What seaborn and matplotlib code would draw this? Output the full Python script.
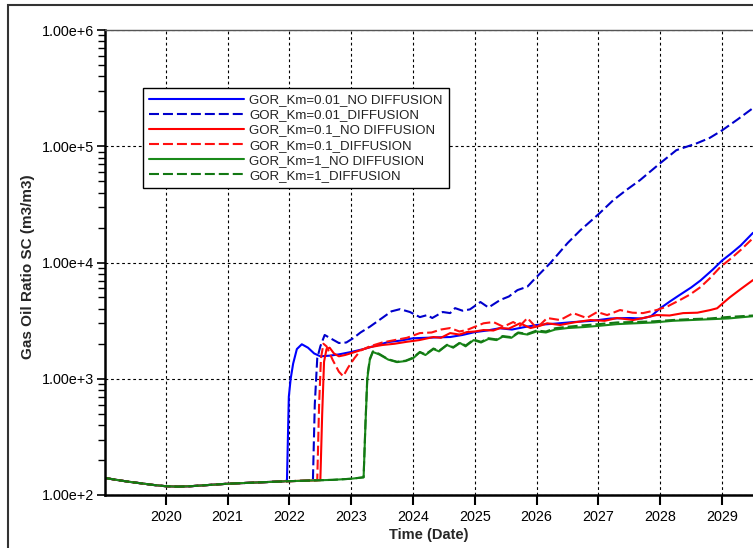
import numpy as np
import pandas as pd
import matplotlib
matplotlib.use("Agg")
import matplotlib.pyplot as plt
from matplotlib.patches import Rectangle
from matplotlib.ticker import FixedLocator, FuncFormatter, LogLocator, NullFormatter
import seaborn as sns

# ---- data: gas-oil ratio (m3/m3) against time (decimal years) ----
base_years = [2019.02, 2019.2, 2019.4, 2019.6, 2019.8, 2020.0, 2020.2, 2020.4,
              2020.6, 2020.8, 2021.0, 2021.3, 2021.6, 2021.9]
base_gor = [140, 135, 130, 126, 122, 119, 118, 119, 121, 123, 125, 127, 129, 131]

km001_nodiff_years = base_years + [
    2021.96, 2021.99, 2022.02, 2022.06, 2022.12, 2022.2, 2022.3, 2022.4, 2022.5, 2022.65,
    2022.8, 2023.0, 2023.2, 2023.4, 2023.6, 2023.8, 2024.0, 2024.2, 2024.4, 2024.6,
    2024.8, 2025.0, 2025.2, 2025.4, 2025.6, 2025.8, 2026.0, 2026.3, 2026.6, 2026.9,
    2027.2, 2027.5, 2027.7, 2027.85, 2028.0, 2028.15, 2028.3, 2028.5, 2028.65, 2028.85,
    2029.0, 2029.15, 2029.3, 2029.5]
km001_nodiff_gor = base_gor + [
    133, 700, 1000, 1350, 1800, 1980, 1850, 1650, 1560, 1580,
    1620, 1700, 1800, 1930, 2070, 2130, 2230, 2250, 2270, 2285,
    2380, 2520, 2600, 2720, 2650, 2780, 2900, 2980, 3075, 3150,
    3300, 3330, 3300, 3450, 4040, 4600, 5200, 6100, 7000, 8700,
    10400, 12000, 14000, 18000]

km001_diff_years = base_years + [
    2022.1, 2022.3, 2022.38, 2022.41, 2022.45, 2022.5, 2022.57, 2022.65, 2022.8, 2022.92,
    2023.03, 2023.15, 2023.3, 2023.52, 2023.65, 2023.79, 2023.95, 2024.11, 2024.23, 2024.31,
    2024.48, 2024.6, 2024.68, 2024.8, 2024.92, 2025.09, 2025.22, 2025.41, 2025.55, 2025.69,
    2025.85, 2025.95, 2026.22, 2026.5, 2026.71, 2027.0, 2027.24, 2027.45, 2027.67, 2028.0,
    2028.26, 2028.59, 2028.8, 2029.0, 2029.25, 2029.5]
km001_diff_gor = base_gor + [
    132, 133, 134, 600, 1500, 1900, 2380, 2250, 2030, 2050,
    2230, 2500, 2800, 3390, 3800, 3970, 3750, 3390, 3530, 3330,
    3750, 3670, 4050, 3850, 3950, 4570, 4100, 4760, 5100, 5790,
    6200, 7060, 9890, 14690, 19000, 26000, 34400, 42000, 51000, 71600,
    92500, 106000, 118000, 137000, 170000, 213000]

km01_nodiff_years = base_years + [
    2022.1, 2022.3, 2022.5, 2022.53, 2022.56, 2022.6, 2022.65, 2022.72, 2022.8, 2022.9,
    2023.0, 2023.15, 2023.3, 2023.5, 2023.7, 2023.9, 2024.1, 2024.33, 2024.45, 2024.6,
    2024.75, 2024.87, 2025.0, 2025.14, 2025.3, 2025.41, 2025.55, 2025.73, 2025.9, 2026.05,
    2026.17, 2026.38, 2026.6, 2026.87, 2027.1, 2027.3, 2027.56, 2027.75, 2027.94, 2028.15,
    2028.37, 2028.6, 2028.81, 2028.92, 2029.02, 2029.13, 2029.3, 2029.5]
km01_nodiff_gor = base_gor + [
    132, 133, 134, 500, 1400, 1800, 1850, 1650, 1560, 1600,
    1660, 1760, 1870, 1950, 2000, 2080, 2150, 2285, 2250, 2470,
    2400, 2520, 2550, 2625, 2600, 2730, 2700, 3000, 2730, 2850,
    3000, 2900, 3050, 3200, 3150, 3330, 3200, 3350, 3530, 3500,
    3670, 3700, 3900, 4040, 4500, 5040, 5900, 7060]

km01_diff_years = base_years + [
    2022.1, 2022.3, 2022.45, 2022.48, 2022.51, 2022.55, 2022.6, 2022.7, 2022.8, 2022.87,
    2022.95, 2023.05, 2023.15, 2023.3, 2023.5, 2023.7, 2023.9, 2024.11, 2024.3, 2024.45,
    2024.6, 2024.75, 2024.87, 2025.0, 2025.14, 2025.3, 2025.46, 2025.62, 2025.73, 2025.85,
    2026.0, 2026.17, 2026.38, 2026.59, 2026.81, 2026.98, 2027.14, 2027.35, 2027.55, 2027.72,
    2027.94, 2028.12, 2028.32, 2028.48, 2028.65, 2028.8, 2028.97, 2029.15, 2029.3, 2029.5]
km01_diff_gor = base_gor + [
    132, 133, 134, 600, 1500, 2000, 1900, 1450, 1150, 1050,
    1250, 1500, 1750, 1900, 2050, 2150, 2250, 2470, 2500, 2650,
    2730, 2550, 2625, 2800, 3000, 3075, 2800, 3075, 2850, 3330,
    2730, 3330, 3200, 3670, 3330, 3750, 3530, 3900, 3700, 3670,
    3900, 4200, 4760, 5300, 6140, 7300, 9130, 10900, 12800, 16200]

km1_years = base_years + [
    2022.3, 2022.7, 2023.0, 2023.2, 2023.23, 2023.26, 2023.3, 2023.35, 2023.45, 2023.6,
    2023.74, 2023.88, 2024.0, 2024.11, 2024.2, 2024.33, 2024.42, 2024.55, 2024.65, 2024.76,
    2024.85, 2024.98, 2025.1, 2025.22, 2025.35, 2025.45, 2025.59, 2025.7, 2025.85, 2026.0,
    2026.15, 2026.3, 2026.5, 2026.75, 2027.0, 2027.3, 2027.6, 2027.9, 2028.2, 2028.5,
    2028.8, 2029.1, 2029.5]
km1_nodiff_gor = base_gor + [
    133, 135, 138, 142, 400, 1000, 1450, 1700, 1620, 1460,
    1390, 1420, 1500, 1690, 1600, 1800, 1720, 1950, 1850, 2030,
    1900, 2150, 2050, 2200, 2150, 2300, 2250, 2470, 2400, 2550,
    2500, 2650, 2730, 2780, 2850, 2950, 3000, 3050, 3150, 3200,
    3250, 3300, 3450]
km1_diff_gor = base_gor + [
    133, 135, 138, 142, 420, 1050, 1480, 1720, 1640, 1470,
    1400, 1430, 1520, 1700, 1620, 1820, 1740, 1960, 1870, 2050,
    1930, 2170, 2080, 2230, 2180, 2330, 2280, 2500, 2430, 2600,
    2550, 2720, 2800, 2880, 2950, 3050, 3080, 3120, 3200, 3260,
    3300, 3400, 3500]

series_labels = ["GOR_Km=0.01_NO DIFFUSION", "GOR_Km=0.01_DIFFUSION",
                 "GOR_Km=0.1_NO DIFFUSION", "GOR_Km=0.1_DIFFUSION",
                 "GOR_Km=1_NO DIFFUSION", "GOR_Km=1_DIFFUSION"]
series_data = [(km001_nodiff_years, km001_nodiff_gor), (km001_diff_years, km001_diff_gor),
               (km01_nodiff_years, km01_nodiff_gor), (km01_diff_years, km01_diff_gor),
               (km1_years, km1_nodiff_gor), (km1_years, km1_diff_gor)]
series_colors = ["#0000ff", "#0000cc", "#ff0000", "#ff1010", "#1a8a1a", "#137813"]
series_dashed = [False, True, False, True, False, True]

year_ticks = list(range(2020, 2030))
gor_decades = [1e2, 1e3, 1e4, 1e5, 1e6]

# ---- style ----
sns.set_theme(style="ticks")
plt.rcParams["font.family"] = ["Liberation Sans", "DejaVu Sans"]
plt.rcParams["axes.unicode_minus"] = False

fig = plt.figure(figsize=(7.53, 5.48), dpi=100)
W, H = 753, 548
ax = fig.add_axes([105 / W, 1 - 495 / H, 1 - 105 / W, 465 / H])

for label, (yrs, gor), color, dashed in zip(series_labels, series_data,
                                            series_colors, series_dashed):
    df = pd.DataFrame({"year": yrs, "gor": gor})
    sns.lineplot(data=df, x="year", y="gor", ax=ax, color=color, label=label,
                 linewidth=1.5, estimator=None,
                 linestyle=(0, (4.8, 1.9)) if dashed else "-")

ax.set_yscale("log")
ax.set_xlim(2019.016, 2029.5)
ax.set_ylim(gor_decades[0], gor_decades[-1])

ax.xaxis.set_major_locator(FixedLocator(year_ticks))
ax.xaxis.set_major_formatter(FuncFormatter(lambda v, p: f"{int(round(v))}"))
ax.yaxis.set_major_locator(FixedLocator(gor_decades))
ax.yaxis.set_major_formatter(
    FuncFormatter(lambda v, p: f"1.00e+{int(round(np.log10(v)))}"))
ax.yaxis.set_minor_locator(LogLocator(base=10, subs=np.arange(2, 10), numticks=20))
ax.yaxis.set_minor_formatter(NullFormatter())

ax.grid(True, which="major", color="black", linestyle=(0, (2.5, 2.5)), linewidth=0.8)
ax.set_axisbelow(True)

for side in ("left", "bottom"):
    ax.spines[side].set_color("black")
    ax.spines[side].set_linewidth(1.8)
ax.spines["top"].set_color("#555555")
ax.spines["top"].set_linewidth(1.0)
ax.spines["right"].set_visible(False)

ax.tick_params(axis="x", which="major", direction="out", length=7, width=1.5,
               pad=4, labelsize=10.4, colors="black")
ax.tick_params(axis="y", which="major", direction="out", length=6, width=1.2,
               pad=2, labelsize=10.4, colors="black")
ax.tick_params(axis="y", which="minor", direction="out", length=5, width=1.0,
               colors="black")

ax.set_xlabel("Time (Date)", fontsize=10.5, fontweight="bold", labelpad=3)
ax.set_ylabel("Gas Oil Ratio SC (m3/m3)", fontsize=11, fontweight="bold")
ax.yaxis.set_label_coords(-(105 - 35) / 648, 0.49)

leg = ax.legend(loc="upper left", bbox_to_anchor=(38 / 648, (495 - 88) / 465),
                borderaxespad=0, fontsize=9.5, handlelength=7.2,
                handletextpad=0.4, labelspacing=0.22, borderpad=0.45,
                fancybox=False, framealpha=1, edgecolor="black")
leg.get_frame().set_linewidth(1.0)
for txt in leg.get_texts():
    txt.set_color("#222222")

# outer frame of the plot window
fig.patches.append(Rectangle((8 / W, -0.1), 1.2, 1 - 5 / H + 0.1,
                             transform=fig.transFigure, fill=False,
                             edgecolor="#333333", linewidth=1.5))

fig.savefig("out.png", dpi=100)
